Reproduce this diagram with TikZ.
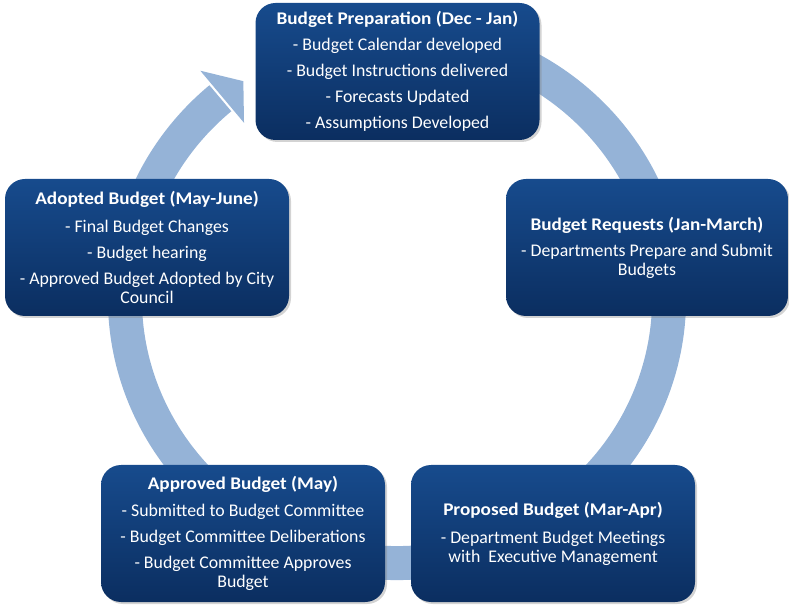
\documentclass[tikz,border=0pt]{standalone}
\usepackage{fontspec}
\setmainfont[BoldFeatures={FakeStretch=1.08}]{Carlito}
\usetikzlibrary{shadows}
\definecolor{ringblue}{RGB}{149,179,215}
\definecolor{boxtop}{RGB}{23,75,141}
\definecolor{boxbottom}{RGB}{11,46,96}

\begin{document}
\begin{tikzpicture}[x=1pt,y=1pt,
  stage/.style={rounded corners=20pt, top color=boxtop, bottom color=boxbottom, text=white, align=center,
    minimum width=284pt, minimum height=137pt, inner sep=0pt, font=\fontsize{17.8}{19}\selectfont,
    drop shadow={opacity=0.35, shadow xshift=2pt, shadow yshift=-2pt}},
  ring/.style={ringblue}]
\useasboundingbox (0,0) rectangle (789,605);
\coordinate (c) at (397,306);
\draw[ring, line width=34pt] ([shift={(70:272 and 264)}]c) arc[start angle=70, end angle=-229.5, x radius=272, y radius=264];
\fill[ring] ([shift={(130:306 and 298)}]c) -- ([shift={(124.4:272 and 264)}]c) -- ([shift={(130:238 and 230)}]c) -- cycle;

\node[stage] (prep) at (397.5,533.5) {\textbf{Budget Preparation (Dec - Jan)}\\[7pt]
  - Budget Calendar developed\\[7pt] - Budget Instructions delivered\\[7pt]
  - Forecasts Updated\\[7pt] - Assumptions Developed};
\node[stage, minimum width=282pt] (requests) at (647,357.5) {\textbf{Budget Requests (Jan-March)}\\[7pt]
  - Departments Prepare and Submit\\ Budgets};
\node[stage] (proposed) at (553,71.5) {\textbf{Proposed Budget (Mar-Apr)}\\[9pt]
  - Department Budget Meetings\\ with\ \ Executive Management};
\node[stage] (approved) at (243,71.5) {\textbf{Approved Budget (May)}\\[8pt]
  - Submitted to Budget Committee\\[7pt] - Budget Committee Deliberations\\[7pt]
  - Budget Committee Approves\\ Budget};
\node[stage] (adopted) at (147,357.5) {\textbf{Adopted Budget (May-June)}\\[9pt]
  - Final Budget Changes\\[7pt] - Budget hearing\\[7pt]
  - Approved Budget Adopted by City\\ Council};
\end{tikzpicture}
\end{document}
